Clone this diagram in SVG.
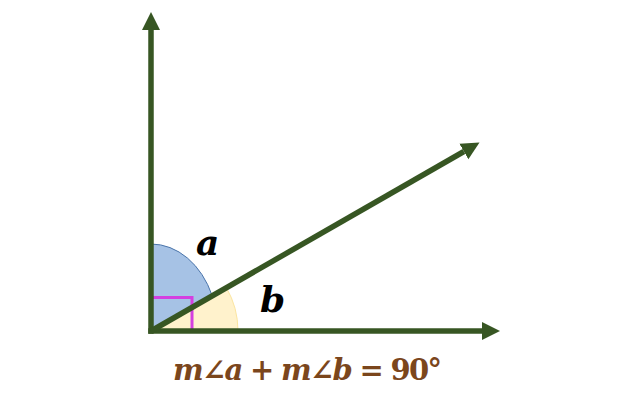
<svg xmlns="http://www.w3.org/2000/svg" width="619" height="404" viewBox="0 0 619 404">
<style>
.axis{stroke:#375623;stroke-width:5.5;fill:none}
.lbl{font-family:"DejaVu Serif",serif;font-weight:bold;font-style:italic;fill:#000}
.eq{font-family:"DejaVu Serif",serif;font-weight:bold;fill:#7b461c}
.it{font-style:italic}
</style>
<defs>
<marker id="ah" markerUnits="userSpaceOnUse" markerWidth="19" markerHeight="19" refX="0" refY="9" orient="auto" viewBox="0 0 19 18">
<path d="M0,0 L18,9 L0,18 Z" fill="#375623"/>
</marker>
</defs>
<rect width="619" height="404" fill="#fff"/>
<g id="angle-b-fill">
<path d="M151,331 L238,331 A87,87 0 0 0 226.3,287.5 Z" fill="#fff2cc" stroke="#fbe5a0" stroke-width="1"/>
</g>
<g id="angle-a-fill">
<path d="M151,331 L151,244 A67,87 0 0 1 212.2,295.7 Z" fill="#a6c2e5" stroke="#4a74aa" stroke-width="1"/>
</g>
<g id="right-angle-mark">
<path d="M151,297.5 H192 V331" fill="none" stroke="#d43fe0" stroke-width="3"/>
</g>
<g id="connectors">
<line class="axis" x1="151" y1="333.75" x2="151" y2="30" marker-end="url(#ah)"/>
<line class="axis" x1="148.25" y1="331" x2="482" y2="331" marker-end="url(#ah)"/>
<line class="axis" x1="151" y1="331" x2="463.9" y2="151.5" marker-end="url(#ah)"/>
</g>
<g id="label-a"><text class="lbl" x="196" y="255" font-size="36">a</text></g>
<g id="label-b"><text class="lbl" x="260" y="312" font-size="36">b</text></g>
<g id="equation">
<text class="eq" x="173" y="380" font-size="29" textLength="269" lengthAdjust="spacing"><tspan class="it">m</tspan>∠<tspan class="it">a</tspan> + <tspan class="it">m</tspan>∠<tspan class="it">b</tspan> = 90°</text>
</g>
</svg>
